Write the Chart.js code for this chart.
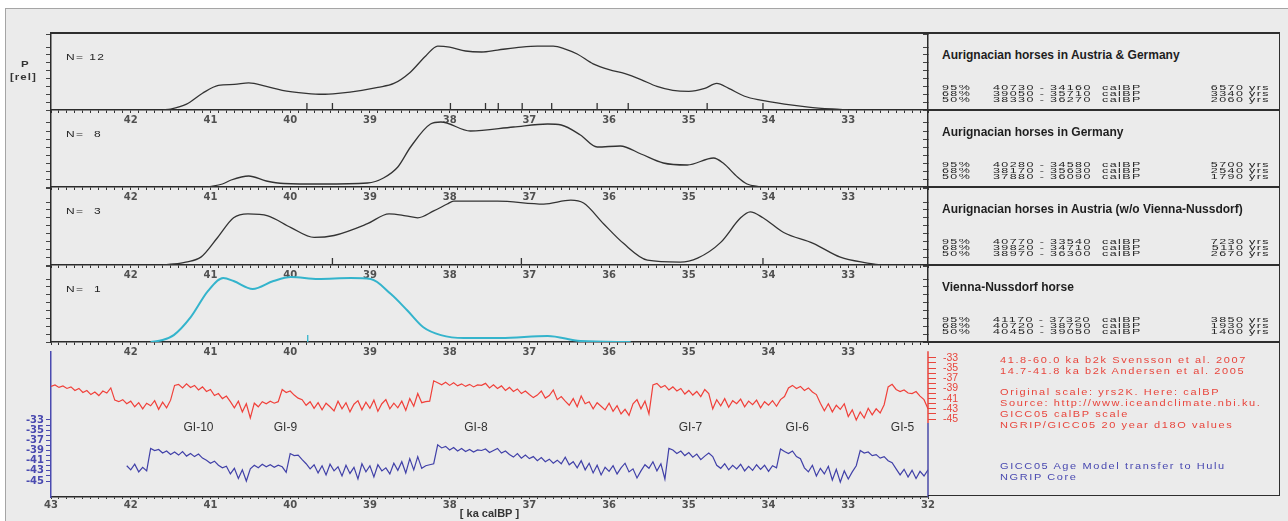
<!DOCTYPE html>
<html>
<head>
<meta charset="utf-8">
<title>Aurignacian horses - calibrated ages and NGRIP d18O</title>
<script src="https://cdn.jsdelivr.net/npm/chart.js@4.4.1/dist/chart.umd.min.js"></script>
<style>
html,body{margin:0;padding:0;background:#fff;}
body{width:1288px;height:521px;position:relative;overflow:hidden;font-family:"Liberation Sans",Arial,sans-serif;}
#frame{position:absolute;left:5px;top:8px;width:1290px;height:520px;background:#ebebeb;border-top:1px solid #a5a5a5;border-left:1px solid #a5a5a5;}
canvas{position:absolute;left:0;}
.ln{position:absolute;background:#2e2e2e;}
.tx{position:absolute;white-space:pre;line-height:14px;height:14px;font-family:"Liberation Sans",Arial,sans-serif;}
.title{font-size:12px;font-weight:bold;color:#1e1e1e;}
.st{font-size:12.5px;color:#262626;letter-spacing:1.4px;transform:scaleY(0.62);transform-origin:0 50%;}
.nn{font-size:12px;color:#262626;letter-spacing:1.4px;transform:scaleY(0.8);transform-origin:0 50%;}
.rt{font-size:11px;color:#e8453c;letter-spacing:1.6px;transform:scaleY(0.88);transform-origin:0 50%;}
.bt{font-size:11px;color:#4848b0;letter-spacing:1.6px;transform:scaleY(0.88);transform-origin:0 50%;}
.pr{font-size:11.5px;font-weight:bold;color:#333;letter-spacing:1px;transform:scaleY(0.75);transform-origin:0 50%;}
</style>
</head>
<body>
<div id="frame"></div>
<canvas id="p0" width="940" height="97" style="top:29px"></canvas>
<canvas id="p1" width="940" height="97" style="top:106px"></canvas>
<canvas id="p2" width="940" height="98" style="top:183px"></canvas>
<canvas id="p3" width="940" height="97" style="top:261px"></canvas>
<canvas id="p4" width="1000" height="183" style="top:338px"></canvas>
<div id="deco"></div>
<script>
// probability curves (relative units), ages in ka calBP
var ageAG = [41.6,41.5,41.3,41.1,40.9,40.7,40.52,40.3,40.1,39.8,39.6,39.4,39.1,38.9,38.7,38.5,38.3,38.15,38.0,37.8,37.6,37.4,37.1,36.9,36.7,36.55,36.4,36.2,36.0,35.8,35.6,35.4,35.2,35.0,34.8,34.65,34.5,34.3,34.1,33.8,33.5,33.2,33.0];
var probAG = [0,1,6,17,25,26,27.5,24,20,17,16,17,20,23,27,38,55,65,64,60,59,61,64,65,65,62,57,47,41,37,31,24,20,19,22,27,22,14,10,6,3,1,0];

var ageDE = [41.03,40.85,40.74,40.52,40.3,40.08,39.6,39.03,38.83,38.65,38.49,38.24,38.11,37.74,37.2,36.77,36.6,36.36,36.15,35.86,35.6,35.32,35.02,34.69,34.57,34.39,34.27,34.1];
var probDE = [0,3,7,11,6,3.5,3,4,9,20,40,63,65,56,60,63,62,52,40,41,33,24,22,29,24,10,3,0];

var ageAT = [41.6,41.46,41.31,41.12,40.91,40.71,40.53,40.28,39.99,39.7,39.45,39.03,38.76,38.55,38.4,38.2,38.03,37.95,37.4,36.82,36.48,36.32,36.07,35.82,35.52,35.11,34.89,34.6,34.35,34.23,34.07,33.81,33.44,33.1,32.76,32.6];
var probAT = [0,1,3,8,28,48,52,50,38,28,30,42,52,50,48,55,62,65,65,62,66,63,42,22,5,3,7,23,48,54,48,33,22,8,2,0];

var ageVN = [41.75,41.6,41.46,41.25,41.03,40.84,40.71,40.47,40.21,39.99,39.65,39.24,38.99,38.74,38.53,38.33,38.11,37.82,37.36,36.77,36.36,35.73];
var probVN = [0,2,7,25,52,65,62,54,62,66,64,65,64,49,32,15,7,4,4,6,1,0];

// sample dates (rug marks)
var rugAG = [39.79,39.47,37.99,37.55,37.39,37.09,36.72,36.15,35.76,34.77,34.07];
var rugAT = [39.47,37.10,34.07];
var rugVN = [39.78];

// NGRIP d18O, GICC05 calBP, sampled every 0.05 ka from 43.00
var ngripStart = 43.0;
var ngripD18O = [
 -38.6,-38.3,-38.8,-38.5,-39.0,-38.7,-39.4,-39.0,-39.8,-39.4,-40.2,-39.7,-40.4,-39.5,-39.9,-38.9,-41.3,-41.6,-41.2,-42.0,
 -41.5,-42.6,-41.8,-43.0,-41.9,-42.4,-41.4,-43.1,-41.7,-42.8,-41.3,-38.4,-38.2,-38.9,-38.1,-38.8,-38.4,-39.3,-38.7,-39.6,
 -39.2,-40.4,-40.0,-41.0,-40.5,-41.6,-42.8,-41.5,-43.6,-42.0,-44.8,-41.9,-42.6,-41.6,-42.0,-41.5,-41.9,-41.6,-39.2,-39.8,
 -39.5,-40.3,-40.9,-41.2,-42.3,-41.6,-42.9,-41.8,-43.2,-41.9,-42.6,-43.4,-41.5,-43.0,-41.8,-43.6,-42.1,-41.4,-43.2,-41.7,
 -42.9,-41.3,-43.5,-42.0,-41.2,-43.0,-41.9,-42.8,-41.5,-43.3,-41.0,-42.5,-40.0,-41.8,-41.6,-41.5,-37.5,-37.9,-38.3,-37.8,
 -38.4,-37.9,-38.5,-38.1,-38.6,-38.2,-38.7,-38.3,-38.4,-38.0,-38.9,-38.3,-39.0,-38.5,-39.4,-38.8,-39.6,-39.1,-40.0,-39.5,
 -40.2,-40.8,-40.3,-39.5,-40.9,-40.4,-39.3,-41.2,-40.6,-41.5,-42.3,-41.0,-42.6,-40.5,-42.0,-41.6,-43.0,-41.8,-42.5,-43.2,
 -41.9,-43.5,-42.4,-44.0,-43.1,-44.3,-42.0,-41.2,-43.0,-41.5,-44.0,-38.3,-38.0,-38.8,-38.4,-39.3,-38.7,-39.5,-39.0,-40.1,
 -39.4,-40.3,-39.6,-40.6,-39.2,-40.0,-43.0,-41.2,-42.4,-41.0,-42.7,-41.4,-42.0,-41.1,-42.6,-41.5,-42.2,-41.3,-42.8,-41.6,
 -42.3,-41.4,-42.5,-41.2,-40.6,-38.9,-38.4,-39.0,-38.6,-39.4,-38.9,-39.7,-40.2,-41.9,-43.4,-42.0,-43.6,-42.3,-43.1,-42.0,
 -44.5,-43.2,-45.2,-43.6,-44.8,-42.9,-44.2,-43.0,-43.8,-42.2,-38.7,-38.2,-39.2,-39.6,-39.3,-39.9,-40.0,-39.6,-40.5,-41.2,
 -43.0
];

// NGRIP d18O on GICC05 transferred to Hulu age model, every 0.05 ka from 42.05
var huluStart = 42.05;
var huluD18O = [
 -42.0,-42.8,-41.7,-43.2,-42.3,-43.0,-38.6,-39.0,-38.8,-39.5,-39.1,-39.8,-39.3,-39.9,-39.2,-40.1,-39.6,-40.2,-39.7,-40.5,
 -40.9,-41.5,-41.1,-41.9,-42.4,-42.1,-43.6,-42.5,-44.5,-42.8,-45.0,-42.6,-41.9,-42.4,-41.7,-42.2,-41.8,-42.3,-41.9,-42.2,
 -43.3,-39.6,-40.0,-39.9,-40.8,-41.6,-42.6,-41.8,-43.4,-42.0,-43.8,-41.7,-43.0,-42.2,-44.0,-41.9,-43.5,-42.3,-44.6,-41.6,
 -43.2,-42.0,-44.2,-41.8,-43.0,-42.4,-43.6,-41.5,-42.9,-41.2,-43.4,-40.6,-42.8,-40.2,-42.5,-42.0,-41.8,-41.6,-37.9,-38.5,
 -38.2,-38.9,-38.4,-39.1,-38.6,-39.2,-38.8,-39.3,-38.9,-39.0,-38.7,-39.4,-39.0,-38.6,-39.5,-39.1,-39.8,-40.3,-39.6,-40.5,
 -39.9,-40.6,-40.2,-41.0,-40.4,-41.2,-40.7,-41.5,-40.9,-41.6,-40.3,-41.8,-41.2,-42.4,-41.0,-42.8,-41.5,-43.4,-41.9,-43.8,
 -42.3,-43.1,-42.0,-43.6,-42.4,-41.5,-43.2,-42.6,-44.4,-43.0,-41.8,-42.5,-41.2,-43.0,-41.6,-44.6,-38.6,-38.9,-39.6,-39.1,
 -40.0,-39.4,-40.3,-39.7,-40.8,-40.1,-39.5,-40.2,-41.9,-42.5,-41.6,-42.8,-41.9,-42.6,-41.7,-43.0,-42.1,-42.9,-41.8,-42.7,
 -41.9,-43.1,-42.0,-42.4,-38.7,-39.2,-39.6,-39.1,-40.2,-40.6,-42.4,-43.2,-41.9,-44.0,-42.5,-43.6,-42.1,-44.8,-42.7,-45.2,
 -43.0,-44.6,-43.2,-42.0,-39.0,-39.5,-39.3,-40.0,-39.8,-40.5,-40.2,-41.0,-41.4,-42.6,-43.8,-42.7,-44.2,-42.9,-44.5,-43.1,
 -44.0,-42.8
];
var sampleStep = 0.05;

var isoTicks = [-45,-44,-43,-42,-41,-40,-39,-38,-37,-36,-35,-34,-33];
var giLabels = ['GI-10','GI-9','GI-8','GI-7','GI-6','GI-5'];
var giAges = [41.15, 40.06, 37.67, 34.98, 33.64, 32.32];

var panelTitles = ['Aurignacian horses in Austria & Germany','Aurignacian horses in Germany','Aurignacian horses in Austria (w/o Vienna-Nussdorf)','Vienna-Nussdorf horse'];
var panelN = ['N= 12','N=  8','N=  3','N=  1'];
var rangeLevels = ['95%','68%','50%'];
var rangeFrom = [[40730,39050,38330],[40280,38170,37880],[40770,39820,38970],[41170,40720,40450]];
var rangeTo = [[34160,35710,36270],[34580,35630,36090],[33540,34710,36300],[37320,38790,39050]];
var rangeSpan = [[6570,3340,2060],[5700,2540,1790],[7230,5110,2670],[3850,1930,1400]];
var noteRed = ['41.8-60.0 ka b2k Svensson et al. 2007','14.7-41.8 ka b2k Andersen et al. 2005','','Original scale: yrs2K. Here: calBP','Source: http://www.iceandclimate.nbi.ku.','GICC05 calBP scale','NGRIP/GICC05 20 year d18O values'];
var noteBlue = ['GICC05 Age Model transfer to Hulu','NGRIP Core'];

Chart.defaults.font.family = '"Liberation Sans", Arial, sans-serif';
var tickFont = { family: '"DejaVu Sans", sans-serif', size: 10, weight: 'bold' };
var axisDark = '#2b2b2b';

function intLabel(showEnds) {
  return function (v) {
    var r = Math.round(v);
    if (Math.abs(v - r) > 1e-6) return '';
    if (!showEnds && (r === 32 || r === 43)) return '';
    return String(r);
  };
}
function toPts(ages, vals) {
  return ages.map(function (a, i) { return { x: a, y: vals[i] }; });
}

function panelChart(id, h, ages, probs, color, lw, rug, rugColor) {
  return new Chart(document.getElementById(id), {
    type: 'line',
    data: {
      datasets: [{
        data: toPts(ages, probs),
        borderColor: color, borderWidth: lw, pointRadius: 0,
        cubicInterpolationMode: 'monotone', fill: false
      }, {
        data: rug.map(function (a) { return { x: a, y: 3.5 }; }),
        showLine: false, pointStyle: 'line', rotation: 90, pointRadius: 3.5,
        borderColor: rugColor, borderWidth: 1.3
      }]
    },
    options: {
      responsive: false, animation: false, events: [],
      layout: { padding: { top: 4 } },
      plugins: { legend: { display: false }, tooltip: { enabled: false } },
      scales: {
        x: {
          type: 'linear', reverse: true, min: 32, max: 43,
          afterFit: function (s) { s.height = 16; },
          ticks: { stepSize: 0.1, autoSkip: false, maxRotation: 0, padding: 1, font: tickFont, color: '#505050', callback: intLabel(false) },
          grid: { drawOnChartArea: false, tickLength: 3, color: '#333' },
          border: { color: axisDark, width: 1.5 }
        },
        y: {
          min: 0, max: h,
          afterFit: function (s) { s.width = 51; },
          ticks: { stepSize: 8, display: false },
          grid: { drawOnChartArea: false, tickLength: 5, color: '#444' },
          border: { color: axisDark, width: 1.5 }
        },
        yr: {
          position: 'right', min: 0, max: h,
          afterFit: function (s) { s.width = 12; },
          ticks: { stepSize: 8, display: false },
          grid: { drawOnChartArea: false, tickLength: -5, color: '#444' },
          border: { color: axisDark, width: 1.5 }
        }
      }
    }
  });
}

panelChart('p0', 77, ageAG, probAG, '#333', 1.3, rugAG, '#333');
panelChart('p1', 77, ageDE, probDE, '#333', 1.3, [], '#333');
panelChart('p2', 78, ageAT, probAT, '#333', 1.3, rugAT, '#333');
panelChart('p3', 77, ageVN, probVN, '#34b4cc', 2, rugVN, '#34b4cc');

var giPlugin = {
  id: 'giLabels',
  afterDatasetsDraw: function (chart) {
    var ctx = chart.ctx, x = chart.scales.x, y = chart.scales.yBlue;
    ctx.save();
    ctx.font = '12px "Liberation Sans", Arial, sans-serif';
    ctx.fillStyle = '#333';
    ctx.textAlign = 'center';
    ctx.textBaseline = 'middle';
    giLabels.forEach(function (t, i) {
      ctx.fillText(t, x.getPixelForValue(giAges[i]), y.getPixelForValue(-34.6));
    });
    ctx.restore();
  },
  afterDraw: function (chart) {
    var ctx = chart.ctx, a = chart.chartArea, r = chart.scales.yRed;
    var yEnd = r.getPixelForValue(-45.8);
    ctx.save();
    ctx.lineWidth = 1.5;
    ctx.strokeStyle = '#e8453c';
    ctx.beginPath(); ctx.moveTo(a.right, a.top); ctx.lineTo(a.right, yEnd); ctx.stroke();
    ctx.strokeStyle = '#4a4aa8';
    ctx.beginPath(); ctx.moveTo(a.right, yEnd); ctx.lineTo(a.right, a.bottom); ctx.stroke();
    ctx.restore();
  }
};

function isoTickSetter(s) { s.ticks = isoTicks.map(function (v) { return { value: v }; }); }
function oddLabel(v) { return (v % 2 !== 0) ? String(v) : ''; }

new Chart(document.getElementById('p4'), {
  type: 'line',
  data: {
    datasets: [{
      label: 'NGRIP/GICC05 20 year d18O values',
      data: ngripD18O.map(function (v, i) { return { x: +(ngripStart - i * sampleStep).toFixed(2), y: v }; }),
      borderColor: '#f0403a', borderWidth: 1.2, pointRadius: 0, tension: 0, yAxisID: 'yRed'
    }, {
      label: 'GICC05 Age Model transfer to Hulu',
      data: huluD18O.map(function (v, i) { return { x: +(huluStart - i * sampleStep).toFixed(2), y: v }; }),
      borderColor: '#4040a8', borderWidth: 1.2, pointRadius: 0, tension: 0, yAxisID: 'yBlue'
    }]
  },
  options: {
    responsive: false, animation: false, events: [],
    layout: { padding: { top: 4 } },
    plugins: { legend: { display: false }, tooltip: { enabled: false } },
    scales: {
      x: {
        type: 'linear', reverse: true, min: 32, max: 43,
        afterFit: function (s) { s.height = 24; },
        ticks: { stepSize: 0.1, autoSkip: false, maxRotation: 0, padding: 0, font: tickFont, color: '#505050', callback: intLabel(true) },
        grid: { drawOnChartArea: false, tickLength: 2, color: '#333' },
        border: { color: axisDark, width: 1.5 },
        title: { display: true, text: '[ ka calBP ]', color: '#333', font: { size: 11, weight: 'bold' }, padding: 0 }
      },
      yBlue: {
        position: 'left', min: -48.13, max: -19.53,
        afterBuildTicks: isoTickSetter,
        afterFit: function (s) { s.width = 51; },
        ticks: { autoSkip: false, padding: 2, font: tickFont, color: '#4a4ab0', callback: oddLabel },
        grid: { drawOnChartArea: false, tickLength: 5, color: '#4a4ab0' },
        border: { color: '#4a4ab0', width: 1.5 }
      },
      yRed: {
        position: 'right', min: -60.31, max: -31.71,
        afterBuildTicks: isoTickSetter,
        afterFit: function (s) { s.width = 72; },
        ticks: { autoSkip: false, padding: 7, font: { size: 10.5 }, color: '#e8453c', callback: oddLabel },
        grid: { drawOnChartArea: false, tickLength: 8, color: '#e8453c' },
        border: { display: false }
      }
    }
  },
  plugins: [giPlugin]
});

// frame lines and text
var deco = document.getElementById('deco');
function line(x, y, w, h) {
  var d = document.createElement('div');
  d.className = 'ln';
  d.style.left = x + 'px'; d.style.top = y + 'px';
  d.style.width = w + 'px'; d.style.height = h + 'px';
  deco.appendChild(d);
}
function text(t, x, yc, cls, alignRight) {
  var d = document.createElement('div');
  d.className = 'tx ' + cls;
  d.textContent = t;
  if (alignRight) {
    d.style.left = (x - 120) + 'px'; d.style.width = '120px';
    d.style.textAlign = 'right'; d.style.transformOrigin = '100% 50%';
  } else {
    d.style.left = x + 'px';
  }
  d.style.top = (yc - 7) + 'px';
  deco.appendChild(d);
}

var panelTops = [33, 110, 187, 265, 342];
line(50, 32, 1230, 1.5);
[110, 187, 265, 342].forEach(function (y) { line(928, y - 0.75, 351, 1.5); });
line(928, 494.5, 351, 1.5);
line(1278.5, 32, 1.5, 464);

panelTitles.forEach(function (t, i) {
  var top = panelTops[i];
  text(t, 942, top + 22, 'title');
  text(panelN[i], 66, top + 24, 'nn');
  rangeLevels.forEach(function (lv, j) {
    var yc = top + 55 + j * 6;
    text(lv, 942, yc, 'st');
    text(rangeFrom[i][j] + ' - ' + rangeTo[i][j], 993, yc, 'st');
    text('calBP', 1102, yc, 'st');
    text(rangeSpan[i][j] + ' yrs', 1270, yc, 'st', true);
  });
});
noteRed.forEach(function (t, i) { if (t) text(t, 1000, 359 + i * 10.8, 'rt'); });
noteBlue.forEach(function (t, i) { text(t, 1000, 465 + i * 11, 'bt'); });
text('P', 21, 64, 'pr');
text('[rel]', 10, 77, 'pr');
</script>
</body>
</html>
